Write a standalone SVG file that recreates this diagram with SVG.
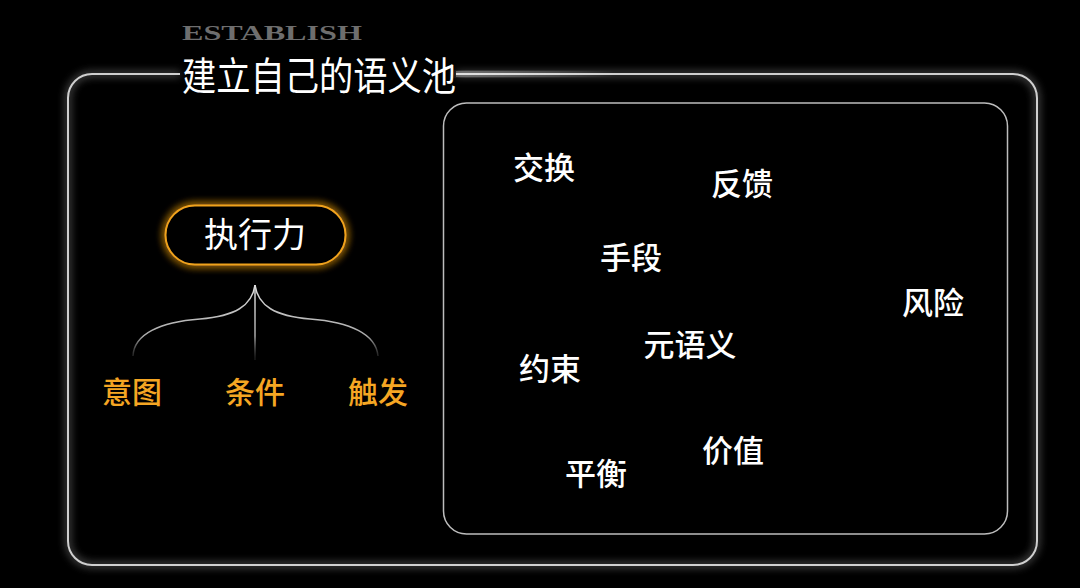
<svg xmlns="http://www.w3.org/2000/svg" width="1080" height="588" viewBox="0 0 1080 588">
<defs>
<filter id="glowW" x="-10%" y="-10%" width="120%" height="120%">
<feGaussianBlur in="SourceGraphic" stdDeviation="4" result="b"/>
<feMerge><feMergeNode in="b"/><feMergeNode in="SourceGraphic"/></feMerge>
</filter>
<filter id="glowO" x="-30%" y="-50%" width="160%" height="200%">
<feGaussianBlur in="SourceGraphic" stdDeviation="4" result="b"/>
<feMerge><feMergeNode in="b"/><feMergeNode in="b"/><feMergeNode in="SourceGraphic"/></feMerge>
</filter>
<linearGradient id="flare" x1="0" y1="0" x2="1" y2="0">
<stop offset="0" stop-color="#ffffff" stop-opacity="1"/>
<stop offset="0.5" stop-color="#ffffff" stop-opacity="0.5"/>
<stop offset="1" stop-color="#ffffff" stop-opacity="0"/>
</linearGradient>
<linearGradient id="braceL" gradientUnits="userSpaceOnUse" x1="0" y1="285" x2="0" y2="358">
<stop offset="0" stop-color="#dddddd"/>
<stop offset="0.7" stop-color="#aaaaaa"/>
<stop offset="1" stop-color="#555555" stop-opacity="0.3"/>
</linearGradient>
</defs>
<style>
.cn{font-family:"Noto Sans CJK SC","Noto Sans",sans-serif;text-anchor:middle}
.word{fill:#ffffff;font-size:31px;font-weight:500}
.sub{fill:#f5a623;font-size:30px;font-weight:500}
.brace{fill:none;stroke:url(#braceL);stroke-width:1.5}
</style>
<rect x="0" y="0" width="1080" height="588" fill="#000000"/>

<g id="outer-frame">
<path d="M180,74 H92 A24,24 0 0 0 68,98 V541 A24,24 0 0 0 92,565 H1013 A24,24 0 0 0 1037,541 V98 A24,24 0 0 0 1013,74 H456" fill="none" stroke="#cfcfcf" stroke-width="2" filter="url(#glowW)"/>
<rect x="456" y="71" width="160" height="6" fill="url(#flare)" opacity="0.35" filter="url(#glowW)"/>
</g>

<g id="title">
<text x="182" y="39.5" font-family="Liberation Serif,serif" font-weight="bold" font-size="20" fill="#6e6e6e" textLength="180" lengthAdjust="spacingAndGlyphs">ESTABLISH</text>
<text x="182" y="90" font-family="Noto Sans CJK SC,sans-serif" font-weight="400" font-size="39" fill="#ffffff" textLength="274" lengthAdjust="spacingAndGlyphs">建立自己的语义池</text>
</g>

<g id="pool-frame">
<rect x="443.5" y="103" width="564" height="431" rx="23" ry="23" fill="none" stroke="#bdbdbd" stroke-width="1.5"/>
</g>

<g id="node-zhixingli">
<rect x="165.5" y="205.5" width="180" height="59" rx="29.5" ry="29.5" fill="#000" stroke="#f0a21e" stroke-width="2" filter="url(#glowO)"/>
<text class="cn" x="255" y="247" fill="#ffffff" font-size="34" font-weight="400">执行力</text>
</g>

<g id="connectors">
<path class="brace" d="M255,285 C252,306 235,316 200,319 C160,322 134,334 133,356"/>
<path class="brace" d="M255,285 C258,306 275,316 310,319 C350,322 376,334 378,356"/>
<path class="brace" d="M255,285 V360"/>
</g>

<g id="node-yitu"><text class="cn sub" x="132" y="403">意图</text></g>
<g id="node-tiaojian"><text class="cn sub" x="255" y="403">条件</text></g>
<g id="node-chufa"><text class="cn sub" x="378" y="403">触发</text></g>

<g id="node-jiaohuan"><text class="cn word" x="544" y="179">交换</text></g>
<g id="node-fankui"><text class="cn word" x="742" y="195">反馈</text></g>
<g id="node-shouduan"><text class="cn word" x="631" y="269">手段</text></g>
<g id="node-fengxian"><text class="cn word" x="933" y="314">风险</text></g>
<g id="node-yuanyuyi"><text class="cn word" x="690" y="356">元语义</text></g>
<g id="node-yueshu"><text class="cn word" x="550" y="380">约束</text></g>
<g id="node-jiazhi"><text class="cn word" x="733" y="462">价值</text></g>
<g id="node-pingheng"><text class="cn word" x="596" y="485">平衡</text></g>
</svg>
